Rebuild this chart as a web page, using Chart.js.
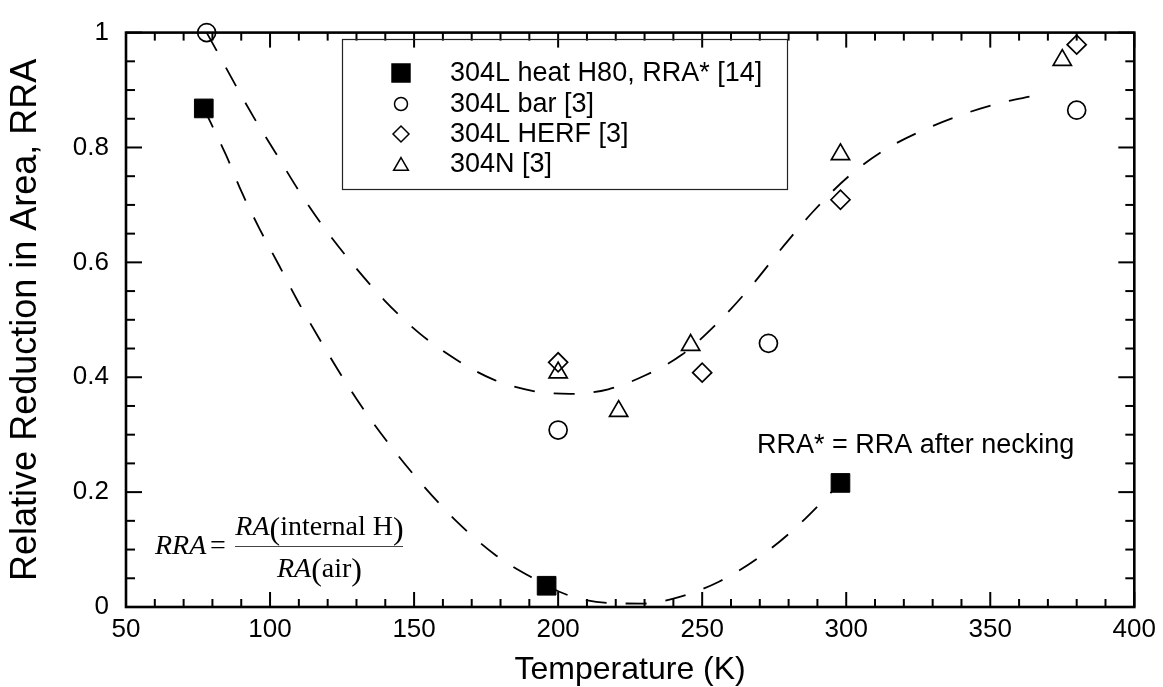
<!DOCTYPE html>
<html><head><meta charset="utf-8">
<script src="https://cdn.jsdelivr.net/npm/chart.js@4/dist/chart.umd.min.js"></script>
<style>html,body{margin:0;padding:0;background:#fff}#wrap{width:1163px;height:687px;position:relative}</style>
</head><body><div id="wrap"><canvas id="c"></canvas></div>
<script>
// ---- data ----
const xTicks = [50, 100, 150, 200, 250, 300, 350, 400];
const yTicks = [0, 0.2, 0.4, 0.6, 0.8, 1];

const h80T   = [77, 196, 298];
const h80RRA = [0.868, 0.037, 0.216];

const barT   = [78, 200, 273, 380];
const barRRA = [1.0, 0.308, 0.459, 0.865];

const herfT   = [200, 250, 298, 380];
const herfRRA = [0.426, 0.408, 0.709, 0.979];

const n304T   = [200, 221, 246, 298, 375];
const n304RRA = [0.408, 0.341, 0.456, 0.788, 0.952];

const upperT   = [78, 94.4, 101.9, 109.7, 118.4, 128.2, 139.7, 152.0, 165.5, 178.0, 191.4, 204.1, 217.4, 230.1, 242.9, 255.8, 267.1, 278.5, 288.6, 300.9, 313.8, 327.1, 340.1, 353.1, 366.1, 369.6];
const upperRRA = [1.0, 0.852, 0.791, 0.727, 0.663, 0.600, 0.534, 0.476, 0.428, 0.395, 0.376, 0.371, 0.379, 0.403, 0.439, 0.497, 0.559, 0.630, 0.689, 0.750, 0.797, 0.831, 0.857, 0.877, 0.891, 0.895];

const lowerT   = [77, 84.7, 90.1, 96.4, 103.1, 109.8, 117.1, 124.9, 133.3, 142.8, 153.2, 165.2, 178.1, 190.3, 203.8, 217.1, 229.8, 243.1, 255.8, 269.1, 282.0, 298];
const lowerRRA = [0.868, 0.787, 0.723, 0.658, 0.595, 0.531, 0.467, 0.402, 0.338, 0.274, 0.211, 0.147, 0.091, 0.053, 0.020, 0.007, 0.006, 0.019, 0.044, 0.084, 0.136, 0.216];

const legendLabels = ['304L heat H80, RRA* [14]', '304L bar [3]', '304L HERF [3]', '304N [3]'];
const noteText = 'RRA* = RRA after necking';

const pts = (xs, ys) => xs.map((x, i) => ({x: x, y: ys[i]}));

// ---- plugins ----
function line(ctx, x1, y1, x2, y2) { ctx.beginPath(); ctx.moveTo(x1, y1); ctx.lineTo(x2, y2); ctx.stroke(); }

function marker(ctx, style, x, y, r, filled) {
  ctx.beginPath();
  if (style === 'rect') {
    const h = r * Math.SQRT1_2;
    ctx.rect(x - h, y - h, 2 * h, 2 * h);
  } else if (style === 'circle') {
    ctx.arc(x, y, r, 0, Math.PI * 2);
  } else if (style === 'rectRot') {
    ctx.moveTo(x - r, y); ctx.lineTo(x, y - r); ctx.lineTo(x + r, y); ctx.lineTo(x, y + r); ctx.closePath();
  } else if (style === 'triangle') {
    ctx.moveTo(x, y - r);
    ctx.lineTo(x + Math.sin(2 * Math.PI / 3) * r, y - Math.cos(2 * Math.PI / 3) * r);
    ctx.lineTo(x + Math.sin(4 * Math.PI / 3) * r, y - Math.cos(4 * Math.PI / 3) * r);
    ctx.closePath();
  }
  if (filled) ctx.fill();
  ctx.stroke();
}

const framePlugin = {
  id: 'frame',
  afterDatasetsDraw(chart) {
    const {ctx, chartArea: a, scales: {x, y}} = chart;
    ctx.save();
    ctx.strokeStyle = '#000';
    ctx.lineWidth = 2;
    const xMin = xTicks[0], xMax = xTicks[xTicks.length - 1];
    for (let v = xMin; v <= xMax + 1e-9; v += 10) {
      const px = x.getPixelForValue(v);
      const L = (xTicks.indexOf(Math.round(v)) >= 0) ? 15 : 8;
      line(ctx, px, a.bottom, px, a.bottom - L);
      line(ctx, px, a.top, px, a.top + L);
    }
    for (let i = 0; i <= 20; i++) {
      const v = i * 0.05;
      const py = y.getPixelForValue(v);
      const L = (i % 4 === 0) ? 16 : 9;
      line(ctx, a.left, py, a.left + L, py);
      line(ctx, a.right, py, a.right - L, py);
    }
    ctx.lineWidth = 2.6;
    ctx.strokeRect(a.left, a.top, a.width, a.height);
    ctx.restore();
  }
};

const annotPlugin = {
  id: 'annot',
  afterDraw(chart) {
    const ctx = chart.ctx;
    ctx.save();
    // legend box
    ctx.strokeStyle = '#222';
    ctx.lineWidth = 1.2;
    ctx.strokeRect(342.5, 39.5, 445, 150);
    const rows = [73, 104, 134, 164];
    const styles = [['rect', 12.7, true], ['circle', 6.5, false], ['rectRot', 8, false], ['triangle', 8.5, false]];
    ctx.fillStyle = '#000';
    ctx.strokeStyle = '#000';
    ctx.lineWidth = 1.5;
    rows.forEach((ry, i) => {
      marker(ctx, styles[i][0], 401, styles[i][0] === 'triangle' ? ry + 2 : ry, styles[i][1], styles[i][2]);
    });
    ctx.font = '27px "Liberation Sans", Arial, sans-serif';
    ctx.textBaseline = 'middle';
    ctx.textAlign = 'left';
    rows.forEach((ry, i) => ctx.fillText(legendLabels[i], 450, ry + 1));

    // note
    ctx.fillText(noteText, 757, 446);

    // equation
    ctx.textBaseline = 'alphabetic';
    const it = 'italic 28px "Liberation Serif", "Times New Roman", serif';
    const up = '28px "Liberation Serif", "Times New Roman", serif';
    const par = '32px "Liberation Serif", "Times New Roman", serif';
    ctx.font = it; ctx.fillText('RRA', 155, 554);
    ctx.font = up; ctx.fillText('=', 210, 554);
    ctx.strokeStyle = '#444'; ctx.lineWidth = 1.2;
    line(ctx, 235, 546.5, 403, 546.5);
    function frac(parts, cx) {
      let w = 0;
      parts.forEach(p => { ctx.font = p[1]; w += ctx.measureText(p[0]).width; });
      let x0 = cx - w / 2;
      parts.forEach(p => { ctx.font = p[1]; ctx.fillText(p[0], x0, p[2]); x0 += ctx.measureText(p[0]).width; });
    }
    frac([['RA', it, 535], ['(', par, 539], ['internal H', up, 535], [')', par, 539]], 319.5);
    frac([['RA', it, 576.5], ['(', par, 580], ['air', up, 576.5], [')', par, 580]], 319.5);
    ctx.restore();
  }
};

// ---- chart ----
const font = (s, lh) => ({family: '"Liberation Sans", Arial, sans-serif', size: s, lineHeight: lh || 1.2});

new Chart(document.getElementById('c'), {
  type: 'scatter',
  data: {
    datasets: [
      {label: legendLabels[0], data: pts(h80T, h80RRA), pointStyle: 'rect', pointRadius: 13.2, backgroundColor: '#000', borderColor: '#000', borderWidth: 1, clip: false},
      {label: legendLabels[1], data: pts(barT, barRRA), pointStyle: 'circle', pointRadius: 9, backgroundColor: 'rgba(0,0,0,0)', borderColor: '#000', borderWidth: 1.7, clip: false},
      {label: legendLabels[2], data: pts(herfT, herfRRA), pointStyle: 'rectRot', pointRadius: 9.5, backgroundColor: 'rgba(0,0,0,0)', borderColor: '#000', borderWidth: 1.7, clip: false},
      {label: legendLabels[3], data: pts(n304T, n304RRA), pointStyle: 'triangle', pointRadius: 10.5, backgroundColor: 'rgba(0,0,0,0)', borderColor: '#000', borderWidth: 1.7, clip: false},
      {type: 'line', label: 'fit upper', data: pts(upperT, upperRRA), borderColor: '#000', borderWidth: 1.8, borderDash: [21, 19], pointRadius: 0, fill: false, cubicInterpolationMode: 'monotone', clip: false},
      {type: 'line', label: 'fit lower', data: pts(lowerT, lowerRRA), borderColor: '#000', borderWidth: 1.8, borderDash: [21, 19], pointRadius: 0, fill: false, cubicInterpolationMode: 'monotone', clip: false}
    ]
  },
  options: {
    responsive: true,
    maintainAspectRatio: false,
    animation: false,
    layout: {padding: {left: 0, top: 21, right: 28, bottom: 0}},
    plugins: {legend: {display: false}, tooltip: {enabled: false}},
    scales: {
      x: {
        type: 'linear', min: xTicks[0], max: xTicks[xTicks.length - 1],
        afterBuildTicks: s => { s.ticks = xTicks.map(v => ({value: v})); },
        ticks: {font: font(26), color: '#000', padding: 7, maxRotation: 0, autoSkip: false, callback: v => String(v)},
        grid: {display: false, drawTicks: false},
        border: {display: false},
        title: {display: true, text: 'Temperature (K)', color: '#000', font: font(32, 1), padding: {top: 0, bottom: 1}},
        afterFit: s => { s.height = 80; }
      },
      y: {
        type: 'linear', min: yTicks[0], max: yTicks[yTicks.length - 1],
        afterBuildTicks: s => { s.ticks = yTicks.map(v => ({value: v})); },
        ticks: {font: font(26), color: '#000', padding: 17, autoSkip: false, callback: v => String(+Number(v).toFixed(1))},
        grid: {display: false, drawTicks: false},
        border: {display: false},
        title: {display: true, text: 'Relative Reduction in Area, RRA', color: '#000', font: font(36, 1), padding: {top: 8, bottom: 0}},
        afterFit: s => { s.width = 126; }
      }
    }
  },
  plugins: [framePlugin, annotPlugin]
});
</script></body></html>
